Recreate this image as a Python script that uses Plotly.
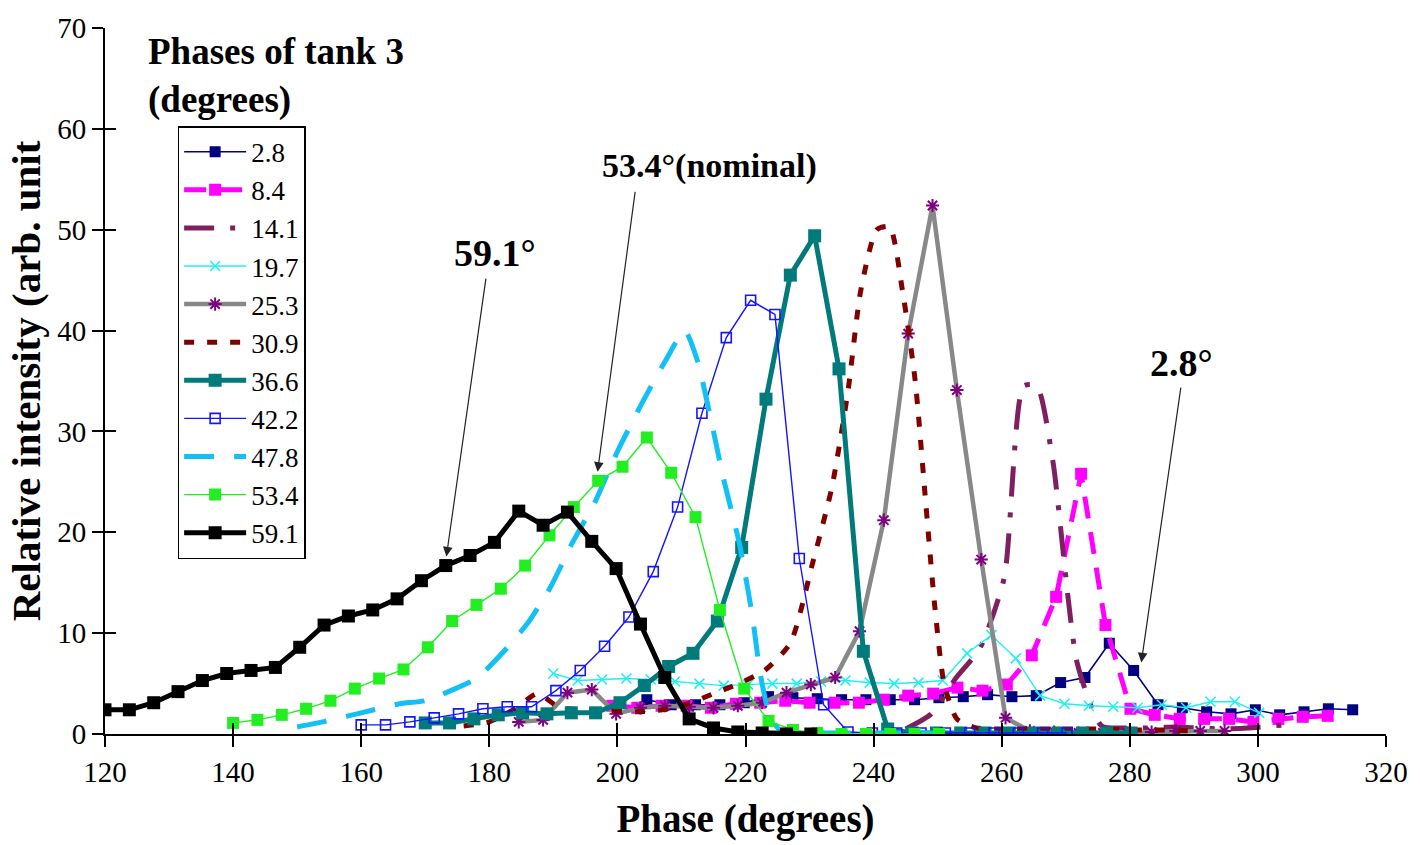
import plotly.graph_objects as go

# ---------------- data ----------------
x_2p8 = [204.6, 208.4, 212.2, 216.0, 219.8, 223.6, 227.4, 231.2, 235.0, 238.8, 242.6, 246.4, 250.2, 254.0, 257.8,
         261.6, 265.4, 269.2, 273.0, 276.8, 280.6, 284.4, 288.2, 292.0, 295.8, 299.6, 303.4, 307.2, 311.0, 314.8]
y_2p8 = [3.4, 2.9, 2.9, 2.9, 3.1, 3.7, 3.6, 3.5, 3.4, 3.4, 3.4, 3.4, 3.6, 3.7, 3.9,
         3.7, 3.8, 5.1, 5.6, 9.0, 6.3, 2.9, 2.6, 2.2, 2.0, 2.4, 1.9, 2.2, 2.5, 2.4]

x_8p4 = [199.2, 203.1, 206.9, 210.8, 214.6, 218.5, 222.3, 226.2, 230.0, 233.9, 237.7, 241.6, 245.4, 249.3, 253.1,
         257.0, 260.8, 264.7, 268.5, 272.4, 276.2, 280.1, 283.9, 287.8, 291.6, 295.5, 299.3, 303.2, 307.0, 310.9]
y_8p4 = [2.8, 2.6, 2.8, 2.8, 2.6, 3.0, 3.1, 3.3, 3.1, 3.1, 3.1, 3.4, 3.8, 4.0, 4.6,
         4.3, 4.9, 7.8, 13.6, 25.8, 10.8, 2.5, 1.9, 1.5, 1.5, 1.5, 1.2, 1.5, 1.7, 1.8]

x_14p1 = [245.0, 249.0, 252.8, 256.6, 260.4, 263.4, 265.5, 268.0, 271.8, 275.6, 279.4, 283.2, 287.0, 290.8, 294.6,
          298.4, 302.2, 306.0]
y_14p1 = [0.5, 2.0, 5.5, 8.5, 15.5, 34.5, 34.5, 27.0, 7.0, 0.8, 0.6, 0.6, 0.7, 0.6, 0.5,
          0.6, 0.8, 1.0]

x_19p7 = [190.0, 193.8, 197.6, 201.4, 205.2, 209.0, 212.8, 216.6, 220.4, 224.2, 228.0, 231.8, 235.6, 239.4, 243.2,
          247.0, 250.8, 254.6, 258.4, 262.2, 266.0, 269.8, 273.6, 277.4, 281.2, 285.0, 288.8, 292.6, 296.4, 300.2]
y_19p7 = [6.0, 5.3, 5.4, 5.5, 5.4, 5.2, 5.0, 4.8, 4.9, 5.0, 5.0, 5.2, 5.3, 5.1, 5.0,
          5.1, 5.3, 8.0, 9.8, 7.5, 3.8, 3.0, 2.8, 2.7, 2.6, 2.9, 2.6, 3.2, 3.2, 2.1]

x_25p3 = [184.6, 188.4, 192.2, 196.0, 199.8, 203.6, 207.4, 211.2, 215.0, 218.8, 222.6, 226.4, 230.2, 234.0, 237.8,
          241.6, 245.4, 249.2, 253.0, 256.8, 260.6, 264.4, 268.2, 272.0, 275.8, 279.6, 283.4, 287.2, 291.0, 294.8]
y_25p3 = [1.2, 1.4, 4.1, 4.4, 2.0, 2.6, 2.8, 2.7, 2.6, 2.8, 3.1, 4.1, 4.9, 5.6, 10.2,
          21.2, 39.7, 52.4, 34.1, 17.3, 1.6, 0.3, 0.2, 0.1, 0.1, 0.1, 0.2, 0.3, 0.3, 0.3]

x_30p9 = [176.0, 180.0, 184.0, 187.5, 191.0, 195.0, 199.0, 203.0, 207.0, 211.0, 215.0, 219.0, 223.0, 227.0, 230.5,
          233.5, 236.0, 238.0, 240.5, 242.5, 244.5, 246.5, 248.0, 249.5, 251.0, 253.0, 256.0, 260.0, 265.0, 270.0,
          275.0, 280.0, 285.0, 290.0]
y_30p9 = [0.8, 1.2, 2.5, 4.0, 2.6, 2.4, 2.3, 2.2, 2.4, 3.0, 4.0, 5.0, 6.3, 9.0, 17.0,
          24.5, 34.0, 44.0, 50.0, 50.3, 44.0, 35.0, 24.0, 13.0, 5.0, 1.5, 0.6, 0.5, 0.5, 0.5,
          0.5, 0.4, 0.4, 0.3]

x_36p6 = [170.0, 173.8, 177.6, 181.4, 185.2, 189.0, 192.8, 196.6, 200.4, 204.2, 208.0, 211.8, 215.6, 219.4, 223.2,
          227.0, 230.8, 234.6, 238.4, 242.2, 246.0, 249.8, 253.6, 257.4, 261.2, 265.0, 268.8, 272.6, 276.4, 280.2]
y_36p6 = [1.1, 1.1, 1.5, 1.9, 2.1, 2.0, 2.1, 2.1, 3.1, 4.8, 6.7, 8.0, 11.2, 18.5, 33.2,
          45.5, 49.4, 36.2, 8.2, 0.5, 0.1, 0.1, 0.1, 0.1, 0.1, 0.1, 0.1, 0.1, 0.1, 0.1]

x_42p2 = [160.0, 163.8, 167.6, 171.4, 175.2, 179.0, 182.8, 186.6, 190.4, 194.2, 198.0, 201.8, 205.6, 209.4, 213.2,
          217.0, 220.8, 224.6, 228.4, 232.2, 236.0, 239.8, 243.6, 247.4, 251.2, 255.0, 258.8, 262.6, 266.4, 270.2]
y_42p2 = [0.9, 0.9, 1.2, 1.6, 2.0, 2.5, 2.7, 2.7, 4.3, 6.3, 8.7, 11.6, 16.1, 22.5, 31.8,
          39.3, 43.0, 41.6, 17.4, 2.9, 0.2, 0.1, 0.1, 0.1, 0.1, 0.1, 0.1, 0.1, 0.1, 0.1]

x_47p8 = [150.0, 154.0, 158.0, 162.0, 166.0, 170.0, 174.0, 178.0, 182.0, 186.0, 189.5, 193.0, 196.5, 200.0, 204.0,
          207.5, 210.5, 212.5, 214.5, 216.5, 219.0, 221.0, 222.3, 223.7, 225.5, 230.0, 235.0, 240.0, 245.0, 250.0]
y_47p8 = [0.7, 1.2, 1.8, 2.4, 3.0, 3.3, 4.3, 5.5, 8.0, 11.0, 14.5, 19.0, 23.0, 28.0, 33.0,
          37.0, 40.0, 37.0, 31.5, 25.5, 19.0, 12.0, 6.0, 2.0, 0.3, 0.1, 0.1, 0.1, 0.1, 0.1]

x_53p4 = [140.0, 143.8, 147.6, 151.4, 155.2, 159.0, 162.8, 166.6, 170.4, 174.2, 178.0, 181.8, 185.6, 189.4, 193.2,
          197.0, 200.8, 204.6, 208.4, 212.2, 216.0, 219.8, 223.6, 227.4, 231.2, 235.0, 238.8, 242.6, 246.4, 250.2]
y_53p4 = [1.1, 1.4, 1.9, 2.5, 3.3, 4.5, 5.5, 6.4, 8.6, 11.2, 12.8, 14.4, 16.7, 19.7, 22.5,
          25.1, 26.5, 29.4, 25.9, 21.5, 12.3, 4.5, 1.3, 0.4, 0.1, 0.0, 0.0, 0.0, 0.0, 0.0]

x_59p1 = [120.0, 123.8, 127.6, 131.4, 135.2, 139.0, 142.8, 146.6, 150.4, 154.2, 158.0, 161.8, 165.6, 169.4, 173.2,
          177.0, 180.8, 184.6, 188.4, 192.2, 196.0, 199.8, 203.6, 207.4, 211.2, 215.0, 218.8, 222.6, 226.4, 230.2]
y_59p1 = [2.4, 2.4, 3.1, 4.2, 5.3, 6.0, 6.3, 6.6, 8.6, 10.8, 11.7, 12.3, 13.4, 15.2, 16.7,
          17.7, 19.0, 22.1, 20.7, 22.0, 19.1, 16.4, 10.9, 5.6, 1.5, 0.6, 0.2, 0.1, 0.0, 0.0]

x_ticks = [120, 140, 160, 180, 200, 220, 240, 260, 280, 300, 320]
y_ticks = [0, 10, 20, 30, 40, 50, 60, 70]

SERIF = "Liberation Serif, Times New Roman, serif"

fig = go.Figure()

def add(name, xs, ys, color, width, dash="solid", mode="lines+markers", symbol="square", msize=11,
        mcolor=None, mline=None, mlinew=0, shape="linear", xa="x", ya="y"):
    fig.add_trace(go.Scatter(
        x=xs, y=ys, name=name, mode=mode,
        line=dict(color=color, width=width, dash=dash, shape=shape, smoothing=0.6),
        marker=dict(symbol=symbol, size=msize, color=mcolor or color,
                    line=dict(color=mline or (mcolor or color), width=mlinew)),
        xaxis=xa, yaxis=ya,
    ))

add("2.8", x_2p8, y_2p8, "#000080", 1.6, msize=11)
add("8.4", x_8p4, y_8p4, "#FF00FF", 5, dash="22px,14px", msize=12)
add("14.1", x_14p1, y_14p1, "#7E2060", 5, dash="30px,16px,5px,16px", mode="lines", shape="spline")
add("19.7", x_19p7, y_19p7, "#22EEF4", 1.4, symbol="x-thin-open", msize=10, mlinew=1.6)
add("25.3", x_25p3, y_25p3, "#888888", 4.5, symbol="asterisk-open", msize=11, mcolor="#800080",
    mline="#800080", mlinew=2)
add("30.9", x_30p9, y_30p9, "#800000", 5, dash="10px,13px", mode="lines", shape="spline")
add("36.6", x_36p6, y_36p6, "#007A7A", 5, msize=13)
add("42.2", x_42p2, y_42p2, "#1414FF", 1.4, symbol="square-open", msize=10, mlinew=1.6)
add("47.8", x_47p8, y_47p8, "#12C0F5", 5, dash="30px,20px", mode="lines", shape="spline")
add("53.4", x_53p4, y_53p4, "#22EE22", 1.4, msize=12)
# top-most series drawn on the overlay axes (which also carry the inner half of the cross ticks)
add("59.1", x_59p1, y_59p1, "#000000", 5, msize=13, xa="x2", ya="y2")

axis_common = dict(showgrid=False, zeroline=False, linecolor="black", linewidth=2,
                   tickcolor="black", tickwidth=2,
                   tickfont=dict(family=SERIF, size=29, color="black"))

fig.update_layout(
    width=1420, height=845,
    margin=dict(l=105, r=24, t=23, b=108),
    paper_bgcolor="white", plot_bgcolor="white",
    xaxis=dict(range=[120, 320], tickvals=x_ticks, ticks="outside", ticklen=11, showline=True,
               ticklabeloverflow="allow",
               title=dict(text="<b>Phase (degrees)</b>", font=dict(family=SERIF, size=39, color="black"),
                          standoff=18),
               **axis_common),
    yaxis=dict(range=[0, 70], tickvals=y_ticks, ticks="outside", ticklen=11, showline=True,
               title=dict(text="<b>Relative intensity (arb. unit</b>",
                          font=dict(family=SERIF, size=41, color="black"), standoff=4),
               **axis_common),
    xaxis2=dict(range=[120, 320], tickvals=x_ticks, ticks="inside", ticklen=11, overlaying="x",
                anchor="y2", showticklabels=False, showline=False, showgrid=False, zeroline=False,
                tickcolor="black", tickwidth=2),
    yaxis2=dict(range=[0, 70], tickvals=y_ticks, ticks="inside", ticklen=11, overlaying="y",
                anchor="x2", showticklabels=False, showline=False, showgrid=False, zeroline=False,
                tickcolor="black", tickwidth=2),
    showlegend=True,
    legend=dict(x=0.0567, y=0.861, xanchor="left", yanchor="top",
                bgcolor="white", bordercolor="black", borderwidth=1.5,
                font=dict(family=SERIF, size=27, color="black"),
                itemwidth=62, tracegroupgap=0),
)

fig.add_annotation(x=0.0318, y=0.998, xref="paper", yref="paper", xanchor="left", yanchor="top",
                   align="left", showarrow=False,
                   text="<b>Phases of tank 3<br>(degrees)</b>",
                   font=dict(family=SERIF, size=37, color="black"))

labels = [("<b>59.1°</b>", 38, 180.9, 47.7, 179.5, 45.3, 173.3, 17.6),
          ("<b>53.4°(nominal)</b>", 34, 214.4, 56.3, 202.8, 53.9, 196.9, 26.0),
          ("<b>2.8°</b>", 38, 288.0, 36.8, 288.0, 34.5, 281.8, 7.1)]
for txt, fs, tx, ty, ax, ay, hx, hy in labels:
    fig.add_annotation(x=tx, y=ty, xref="x", yref="y", showarrow=False, text=txt,
                       font=dict(family=SERIF, size=fs, color="black"))
    fig.add_annotation(x=hx, y=hy, xref="x", yref="y", ax=ax, ay=ay, axref="x", ayref="y",
                       text="", showarrow=True, arrowhead=2, arrowsize=1.6, arrowwidth=1.2,
                       arrowcolor="#222222", standoff=0, startstandoff=0)

fig.write_html("out.html")
